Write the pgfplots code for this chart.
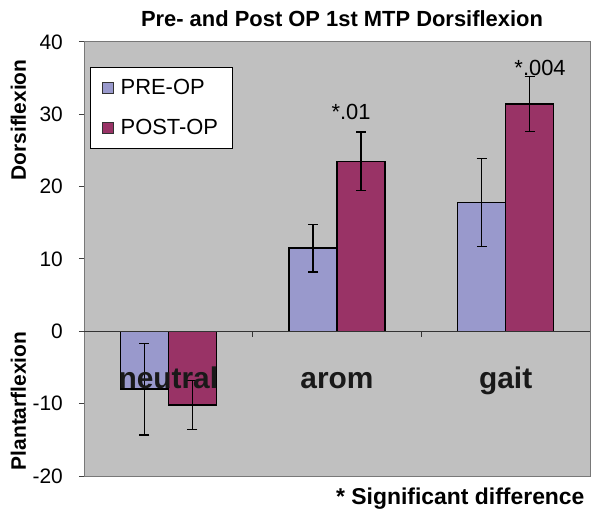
\documentclass[border=0pt]{standalone}
\usepackage{fontspec}
\setmainfont{Liberation Sans}
\usepackage{pgfplots}
\usepackage{pgfplotstable}
\pgfplotsset{compat=1.18}
\definecolor{pre}{RGB}{153,153,204}
\definecolor{post}{RGB}{153,51,102}
\definecolor{bg}{RGB}{192,192,192}
\definecolor{framec}{RGB}{120,120,120}
\pgfplotstableread{
x pre preerr post posterr
0 -8.0 6.3 -10.2 3.4
1 11.5 3.3 23.5 4.05
2 17.8 6.1 31.4 3.8
}\datatable
\begin{document}
\begin{tikzpicture}
\path[use as bounding box] (-84bp,-37bp) rectangle (516bp,476bp);
\begin{axis}[
  at={(0,0)}, anchor=south west,
  scale only axis, width=506bp, height=434bp,
  xmin=-0.5, xmax=2.5, ymin=-20, ymax=40,
  xtick=\empty, ytick={-20,-10,...,40},
  ytick pos=left, tick align=outside, major tick length=5bp,
  axis background/.style={fill=bg},
  axis line style={draw=framec, line width=1bp},
  tick style={draw=black!75, line width=1bp},
  ticklabel style={font=\fontsize{21}{25}\selectfont},
  /pgf/number format/assume math mode=true,
  yticklabel style={anchor=east, inner sep=0pt, xshift=-16bp},
  ybar=0pt, bar width=48bp,
  legend cell align=left,
  legend style={at={(0,1)}, anchor=north west, xshift=6bp, yshift=-25bp,
    draw=black, line width=0.8bp, fill=white,
    font=\fontsize{22}{26}\selectfont,
    inner xsep=12bp, inner ysep=10bp, row sep=19bp},
  clip=false,
]
\addplot[fill=pre, draw=black, line width=1.5bp,
  legend image code/.code={\draw[fill=pre, draw=black!80, line width=1bp] (1bp,-5.5bp) rectangle (12bp,5.5bp); \path (16bp,0);},
  error bars/.cd, y dir=both, y explicit,
  error bar style={line width=1.5bp, black},
  error mark options={rotate=90, mark size=5bp, line width=1.5bp, black}]
  table[x=x, y=pre, y error=preerr] {\datatable};
\addlegendentry{PRE-OP}
\addplot[fill=post, draw=black, line width=1.5bp,
  legend image code/.code={\draw[fill=post, draw=black!80, line width=1bp] (1bp,-5.5bp) rectangle (12bp,5.5bp); \path (16bp,0);},
  error bars/.cd, y dir=both, y explicit,
  error bar style={line width=1.5bp, black},
  error mark options={rotate=90, mark size=5bp, line width=1.5bp, black}]
  table[x=x, y=post, y error=posterr] {\datatable};
\addlegendentry{POST-OP}
\draw[black!80, line width=1bp] (axis cs:-0.5,0) -- (axis cs:2.5,0);
\draw[black!80, line width=1bp] (axis cs:0.5,0) -- (axis cs:0.5,-0.85);
\draw[black!80, line width=1bp] (axis cs:1.5,0) -- (axis cs:1.5,-0.85);
\node[anchor=base, font=\bfseries\fontsize{30}{36}\selectfont, text=black!90] at (axis cs:0,-7.85) {neutral};
\node[anchor=base, font=\bfseries\fontsize{30}{36}\selectfont, text=black!90] at (axis cs:1,-7.85) {arom};
\node[anchor=base, font=\bfseries\fontsize{30}{36}\selectfont, text=black!90] at (axis cs:2,-7.85) {gait};
\node[anchor=base, font=\fontsize{22}{26}\selectfont] at (axis cs:1.083,29.3) {*.01};
\node[anchor=base, font=\fontsize{22}{26}\selectfont] at (axis cs:2.204,35.3) {*.004};
\end{axis}
\node[anchor=base, font=\bfseries\fontsize{22}{26}\selectfont] at (258bp,449bp) {Pre- and Post OP 1st MTP Dorsiflexion};
\node[anchor=base east, font=\bfseries\fontsize{23}{27}\selectfont] at (504bp,-28.7bp) {* Significant difference};
\node[anchor=base, rotate=90, font=\bfseries\fontsize{21}{25}\selectfont] at (-58bp,356bp) {Dorsiflexion};
\node[anchor=base, rotate=90, font=\bfseries\fontsize{21}{25}\selectfont] at (-58bp,75bp) {Plantarflexion};
\end{tikzpicture}
\end{document}
